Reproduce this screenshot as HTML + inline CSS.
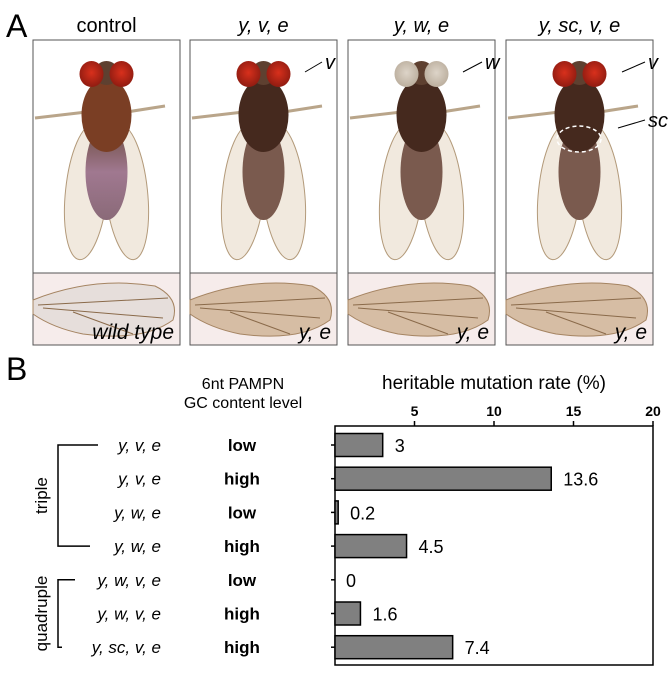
<!DOCTYPE html>
<html><head><meta charset="utf-8"><style>
body{margin:0;background:#fff}
svg{display:block;font-family:"Liberation Sans",Arial,sans-serif}
</style></head><body>
<svg id="fig" width="672" height="675" viewBox="0 0 672 675">
<defs>
<radialGradient id="eye" cx="50%" cy="45%" r="60%"><stop offset="0" stop-color="#d8301c"/><stop offset="1" stop-color="#8a1a10"/></radialGradient>
<radialGradient id="weye" cx="50%" cy="45%" r="60%"><stop offset="0" stop-color="#ddd4c8"/><stop offset="1" stop-color="#b8ab9a"/></radialGradient>
<linearGradient id="abd" x1="0" y1="0" x2="0" y2="1"><stop offset="0" stop-color="#6a4a3a"/><stop offset="0.5" stop-color="#a07890"/><stop offset="1" stop-color="#8a6a78"/></linearGradient>
</defs>
<text x="6" y="37" font-size="32">A</text>
<g id="panels"></g>
<text x="6" y="380" font-size="32">B</text>
<g id="chart"></g>
</svg>
<script>
const NS='http://www.w3.org/2000/svg';
function mk(tag,attrs,parent,txt){const e=document.createElementNS(NS,tag);for(const k in attrs)e.setAttribute(k,attrs[k]);if(txt!==undefined)e.textContent=txt;parent.appendChild(e);return e;}
// Panel A
const panelTitles=['control','y, v, e','y, w, e','y, sc, v, e'];
const wingLabels=['wild type','y, e','y, e','y, e'];
const panelX=[33,190,348,506];
const pg=document.getElementById('panels');
panelTitles.forEach((t,i)=>{
  const x=panelX[i],w=147,cx=x+w/2;
  const g=mk('g',{},pg);
  
  
  const tt=mk('text',{x:cx,y:32,'font-size':20,'text-anchor':'middle','font-style':i?'italic':'normal'},g,t);
  
  
  mk('rect',{x:x,y:40,width:w,height:233,fill:'#fff',stroke:'#555','stroke-width':1},g);
  // wings
  mk('ellipse',{cx:cx-20,cy:192,rx:21,ry:68,fill:'#f1e9de',stroke:'#b39a7a','stroke-width':1,transform:`rotate(6 ${cx-20} 192)`},g);
  mk('ellipse',{cx:cx+20,cy:192,rx:21,ry:68,fill:'#f1e9de',stroke:'#b39a7a','stroke-width':1,transform:`rotate(-6 ${cx+20} 192)`},g);
  // legs
  mk('path',{d:`M${cx-20} 112 L${x+2} 118 M${cx+20} 112 L${x+w-15} 106`,stroke:'#b9a58a','stroke-width':3,fill:'none'},g);
  // abdomen
  mk('ellipse',{cx:cx,cy:172,rx:21,ry:48,fill:i==0?'url(#abd)':'#7a5a4e'},g);
  // thorax
  mk('ellipse',{cx:cx,cy:115,rx:25,ry:37,fill:i==0?'#7a3e24':'#45291e'},g);
  // head
  mk('ellipse',{cx:cx,cy:73,rx:12,ry:12,fill:'#5e4030'},g);
  const ef=i==2?'url(#weye)':'url(#eye)';
  mk('ellipse',{cx:cx-15,cy:74,rx:12,ry:13,fill:ef},g);
  mk('ellipse',{cx:cx+15,cy:74,rx:12,ry:13,fill:ef},g);
  // wing row
  mk('rect',{x:x,y:273,width:w,height:72,fill:'#f6eceb',stroke:'#555','stroke-width':1},g);
  mk('path',{d:`M${x} 300 Q${x+60} 276 ${x+122} 286 Q${x+147} 298 ${x+140} 320 Q${x+110} 342 ${x+50} 334 Q${x+20} 328 ${x} 314 Z`,fill:i==0?'#e6dedb':'#d6bda4',stroke:'#a58462','stroke-width':1},g);
  mk('path',{d:`M${x+5} 305 L${x+135} 298 M${x+10} 308 L${x+130} 318 M${x+40} 312 L${x+100} 334`,stroke:'#8a6a4a','stroke-width':1,fill:'none'},g);
  const wl=mk('text',{x:x+w-6,y:339,'font-size':21,'text-anchor':'end','font-style':'italic'},g,wingLabels[i]);
  
  
});
// annotations
const ann=[[325,62,'v',305,72],[485,62,'w',463,72],[648,62,'v',622,72],[648,120,'sc',618,128]];
ann.forEach(a=>{
  const t=mk('text',{x:a[0],y:a[1]+7,'font-size':20,'font-style':'italic'},pg,a[2]);
  
  
  mk('line',{x1:a[0]-3,y1:a[1],x2:a[3],y2:a[4],stroke:'#000','stroke-width':1},pg);
});
mk('ellipse',{cx:579,cy:139,rx:22,ry:13,fill:'none',stroke:'#fff','stroke-width':1.5,'stroke-dasharray':'4 3'},pg);

// Panel B chart data
const genotypes=['y, v, e','y, v, e','y, w, e','y, w, e','y, w, v, e','y, w, v, e','y, sc, v, e'];
const gcLevels=['low','high','low','high','low','high','high'];
const rates=[3,13.6,0.2,4.5,0,1.6,7.4];
const rateLabels=['3','13.6','0.2','4.5','0','1.6','7.4'];
const ticks=[5,10,15,20];
const ch=document.getElementById('chart');
const X0=335,X1=653,YT=426,YB=665,MAX=20;
const xs=v=>X0+(X1-X0)*v/MAX;
const rowY=i=>445+i*33.7;
const box=mk('rect',{x:X0,y:YT,width:X1-X0,height:YB-YT,fill:'none',stroke:'#000','stroke-width':1.5},ch);


const ttl=mk('text',{x:494,y:389,'font-size':19,'text-anchor':'middle'},ch,'heritable mutation rate (%)');


ticks.forEach(t=>{
  const tx=mk('text',{x:xs(t),y:416,'font-size':14,'font-weight':'bold','text-anchor':'middle'},ch,String(t));
  
  
  mk('line',{x1:xs(t),y1:YT,x2:xs(t),y2:YT-5,stroke:'#000','stroke-width':1.5},ch);
});
const h1=mk('text',{x:243,y:389,'font-size':16,'text-anchor':'middle'},ch,'6nt PAMPN');


const h2=mk('text',{x:243,y:408,'font-size':16,'text-anchor':'middle'},ch,'GC content level');


rates.forEach((v,i)=>{
  const y=rowY(i);
  mk('line',{x1:X0-4,y1:y,x2:X0,y2:y,stroke:'#000','stroke-width':1.5},ch);
  if(v>0){
    const b=mk('rect',{x:X0,y:y-11.5,width:xs(v)-X0,height:23,fill:'#808080',stroke:'#000','stroke-width':1.5},ch);
    
    
  }
  const vl=mk('text',{x:xs(v)+(v>0?12:11),y:y+7,'font-size':18},ch,rateLabels[i]);
  
  
  const gl=mk('text',{x:161,y:y+6,'font-size':17,'font-style':'italic','text-anchor':'end'},ch,genotypes[i]);
  
  
  const cl=mk('text',{x:242,y:y+6,'font-size':17,'font-weight':'bold','text-anchor':'middle'},ch,gcLevels[i]);
  
  
});
// brackets
mk('path',{d:`M98 ${rowY(0)} H58 V${rowY(3)} H90`,fill:'none',stroke:'#000','stroke-width':1.5},ch);
mk('path',{d:`M75 ${rowY(4)} H58 V${rowY(6)} H62`,fill:'none',stroke:'#000','stroke-width':1.5},ch);
const tr=mk('text',{x:0,y:0,'font-size':17,'text-anchor':'middle',transform:`translate(47 ${(rowY(0)+rowY(3))/2}) rotate(-90)`},ch,'triple');


const qd=mk('text',{x:0,y:0,'font-size':17,'text-anchor':'middle',transform:`translate(47 ${(rowY(4)+rowY(6))/2}) rotate(-90)`},ch,'quadruple');


</script>
</body></html>
